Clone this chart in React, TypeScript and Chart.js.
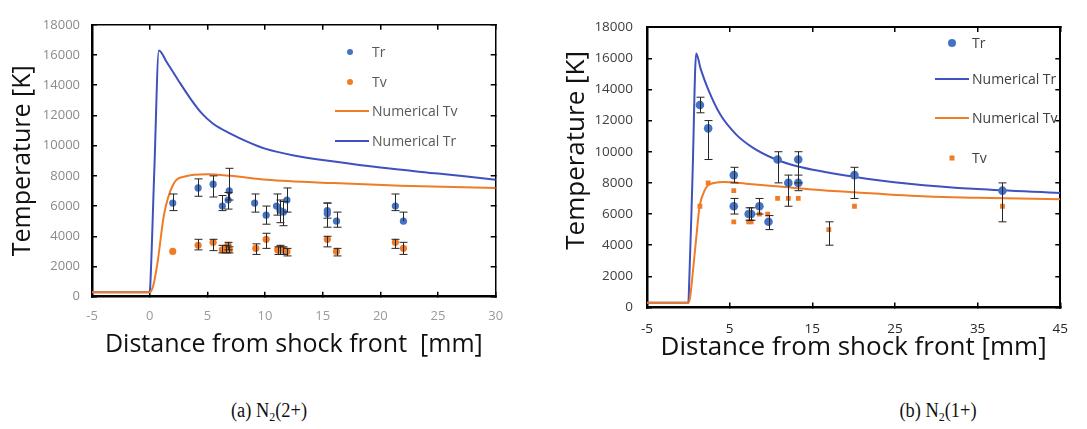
import React, { useEffect, useRef } from "react";
import { Chart, registerables } from "chart.js";

Chart.register(...registerables);

// ---------- Panel (a) N2(2+) ----------
const aTrX = [2.0, 4.2, 5.5, 6.3, 6.8, 6.9, 9.1, 10.1, 11.0, 11.3, 11.6, 11.9, 15.4, 15.4, 16.2, 21.3, 22.0];
const aTrY = [6200, 7200, 7450, 6000, 6400, 7000, 6200, 5400, 6000, 5700, 5600, 6400, 5500, 5700, 5000, 6000, 5000];
const aTrUp = [600, 600, 550, 700, 500, 1500, 600, 600, 800, 700, 700, 800, 700, 500, 600, 800, 600];
const aTrDown = [500, 550, 850, 300, 600, 600, 600, 600, 600, 800, 900, 800, 900, 500, 400, 300, 0];

const aTvX = [2.0, 4.2, 5.5, 6.3, 6.6, 6.8, 6.9, 9.2, 10.1, 11.1, 11.3, 11.6, 11.9, 15.4, 16.2, 21.3, 22.0];
const aTvY = [3000, 3400, 3600, 3100, 3200, 3400, 3100, 3200, 3800, 3100, 3200, 3100, 3000, 3800, 3000, 3600, 3200];
const aTvUp = [0, 400, 200, 300, 200, 200, 200, 300, 400, 200, 200, 200, 200, 200, 200, 200, 400];
const aTvDown = [0, 300, 550, 200, 300, 300, 200, 400, 600, 300, 400, 300, 300, 500, 300, 400, 400];

const aNumTrX = [-5, 0, 0.05, 0.4, 0.8, 1.5, 2.5, 3.5, 4.5, 5.5, 7, 8.5, 10, 12.5, 16, 20, 25, 30];
const aNumTrY = [300, 300, 700, 8300, 16300, 15500, 14300, 13150, 12150, 11450, 10800, 10250, 9800, 9350, 8950, 8550, 8150, 7750];

const aNumTvX = [-5, 0, 0.3, 0.67, 1.25, 2.03, 3.05, 5, 7, 10.17, 15.96, 21.75, 30];
const aNumTvY = [300, 300, 700, 2200, 5460, 7415, 7957, 8100, 8000, 7740, 7520, 7350, 7190];

const aXTicks = [-5, 0, 5, 10, 15, 20, 25, 30];
const aYTicks = [0, 2000, 4000, 6000, 8000, 10000, 12000, 14000, 16000, 18000];

// ---------- Panel (b) N2(1+) ----------
const bTrX = [1.4, 2.4, 5.5, 5.5, 7.3, 7.6, 8.6, 9.7, 10.8, 12.1, 13.3, 13.3, 20.1, 38.0];
const bTrY = [13000, 11500, 8500, 6500, 6000, 6000, 6500, 5500, 9500, 8000, 8000, 9500, 8500, 7500];
const bTrUp = [500, 500, 500, 500, 400, 400, 500, 400, 500, 500, 500, 500, 500, 500];
const bTrDown = [500, 2000, 500, 500, 400, 400, 500, 500, 1500, 1500, 500, 1500, 1500, 2000];

const bTvX = [1.4, 2.4, 5.5, 5.5, 7.3, 7.6, 8.6, 9.6, 10.8, 12.1, 13.3, 17.0, 20.1, 38.0];
const bTvY = [6500, 8000, 7500, 5500, 5500, 5500, 6000, 6000, 7000, 7000, 7000, 5000, 6500, 6500];
const bTvUp = [0, 0, 0, 0, 0, 0, 0, 0, 0, 0, 0, 500, 0, 0];
const bTvDown = [0, 0, 0, 0, 0, 0, 0, 0, 0, 0, 0, 1000, 0, 0];

const bNumTrX = [-5, 0, 0.05, 0.5, 0.95, 1.5, 2.4, 3.85, 5.8, 7.7, 10.4, 13.3, 20, 26.7, 35, 45];
const bNumTrY = [300, 300, 700, 8300, 16300, 15300, 14000, 12400, 11100, 10300, 9550, 9050, 8400, 7950, 7600, 7350];

const bNumTvX = [-5, 0.05, 0.25, 0.57, 1.0, 1.35, 1.8, 2.5, 4.25, 7, 11, 15, 20, 29, 35, 45];
const bNumTvY = [300, 300, 800, 2400, 4700, 6450, 7300, 7880, 8050, 7950, 7770, 7580, 7400, 7120, 7050, 6950];

const bXTicks = [-5, 5, 15, 25, 35, 45];
const bYTicks = [0, 2000, 4000, 6000, 8000, 10000, 12000, 14000, 16000, 18000];

// ---------- styling ----------
const FONT = "'Open Sans', 'Liberation Sans', sans-serif";
const PT_BLUE = "#4472C4";
const LINE_BLUE = "#3F51BE";
const ORANGE = "#F07C28";

const zip = (xs: number[], ys: number[]) => xs.map((x, i) => ({ x, y: ys[i] }));

// error bars + in-plot legend
function makeDecorPlugin(p: any) {
  return {
    id: "decor",
    afterDatasetsDraw(chart: any) {
      const ctx = chart.ctx;
      const sx = chart.scales.x, sy = chart.scales.y;
      ctx.save();
      ctx.fillStyle = "#262626";
      chart.data.datasets.forEach((ds: any) => {
        if (!ds.errUp) return;
        ds.data.forEach((pt: any, j: number) => {
          const up = ds.errUp[j] || 0;
          const dn = ds.errDown[j] || 0;
          if (!up && !dn) return;
          const px = Math.round(sx.getPixelForValue(pt.x));
          const y1 = sy.getPixelForValue(pt.y + up);
          const y0 = sy.getPixelForValue(pt.y - dn);
          const c = 3.5;
          ctx.fillRect(px, y1, 1, y0 - y1);
          if (up) ctx.fillRect(px - c, y1 - 0.5, 2 * c + 1, 1);
          if (dn) ctx.fillRect(px - c, y0 - 0.5, 2 * c + 1, 1);
        });
      });

      const lg = p.legend;
      ctx.font = `${lg.fontSize}px ${FONT}`;
      ctx.textAlign = "left";
      ctx.textBaseline = "middle";
      lg.order.forEach((di: number, k: number) => {
        const ds = chart.data.datasets[di];
        const y = lg.rows[k];
        if (ds.showLine) {
          ctx.fillStyle = ds.borderColor;
          ctx.fillRect(lg.lineX1, y - ds.borderWidth / 2, lg.lineX2 - lg.lineX1, ds.borderWidth);
        } else {
          ctx.fillStyle = ds.backgroundColor;
          const r = lg.pointR[k];
          if (ds.pointStyle === "rect") {
            ctx.fillRect(lg.markerX - r, y - r, 2 * r, 2 * r);
          } else {
            ctx.beginPath();
            ctx.arc(lg.markerX, y, r, 0, Math.PI * 2);
            ctx.fill();
          }
        }
        ctx.fillStyle = lg.color;
        ctx.fillText(ds.label, lg.textX, y + 1);
      });
      ctx.restore();
    },
  };
}

// shared pieces for the four frame axes (inward tick marks via negative tick length)
const tickGrid = (w: number) => ({
  display: true, drawOnChartArea: false, drawTicks: true, tickLength: -5, color: "#000000", lineWidth: w,
});

function makeConfig(p: any): any {
  const f = p.frame;
  return {
    type: "scatter",
    data: {
      datasets: [
        {
          label: "Tr", data: zip(p.trX, p.trY), errUp: p.trUp, errDown: p.trDown,
          backgroundColor: PT_BLUE, borderColor: PT_BLUE, pointRadius: p.trR, pointBorderWidth: 0,
          pointStyle: "circle", showLine: false,
        },
        {
          label: "Tv", data: zip(p.tvX, p.tvY), errUp: p.tvUp, errDown: p.tvDown,
          backgroundColor: ORANGE, borderColor: ORANGE, pointRadius: p.tvR, pointBorderWidth: 0,
          pointStyle: p.tvStyle, showLine: false,
        },
        {
          label: "Numerical Tv", data: zip(p.ntvX, p.ntvY), showLine: true, borderColor: ORANGE,
          backgroundColor: ORANGE, borderWidth: 2, pointRadius: 0, cubicInterpolationMode: "monotone",
        },
        {
          label: "Numerical Tr", data: zip(p.ntrX, p.ntrY), showLine: true, borderColor: LINE_BLUE,
          backgroundColor: LINE_BLUE, borderWidth: 2, pointRadius: 0, cubicInterpolationMode: "monotone",
        },
      ],
    },
    options: {
      animation: false,
      responsive: false,
      devicePixelRatio: 1,
      events: [],
      layout: { padding: p.pad },
      scales: {
        x: {
          type: "linear", position: "bottom", min: p.xTicks[0], max: p.xTicks[p.xTicks.length - 1],
          afterBuildTicks: (s: any) => { s.ticks = p.xTicks.map((v: number) => ({ value: v })); },
          afterFit: (s: any) => { s.height = p.xH; },
          ticks: {
            color: p.xTickColor, font: { family: FONT, size: p.tickSize }, padding: p.xTickPad + 5,
            maxRotation: 0, autoSkip: false, callback: (v: any) => String(v),
          },
          grid: tickGrid(f.tickW),
          border: { display: true, color: "#000000", width: f.bottomW },
          title: {
            display: true, text: p.xTitle, color: "#111",
            font: { family: FONT, size: p.titleSize, lineHeight: 1.2 }, padding: { top: 0, bottom: p.xTitlePad },
          },
        },
        x2: {
          type: "linear", position: "top", min: p.xTicks[0], max: p.xTicks[p.xTicks.length - 1],
          afterBuildTicks: (s: any) => { s.ticks = p.xTicks.map((v: number) => ({ value: v })); },
          afterFit: (s: any) => { s.height = 0; },
          ticks: { display: false },
          grid: tickGrid(f.tickW),
          border: { display: true, color: "#000000", width: f.topW },
        },
        y: {
          type: "linear", position: "left", min: 0, max: 18000,
          afterBuildTicks: (s: any) => { s.ticks = p.yTicks.map((v: number) => ({ value: v })); },
          afterFit: (s: any) => { s.width = p.yW; },
          ticks: {
            color: p.yTickColor, font: { family: FONT, size: p.tickSize }, padding: p.yTickPad + 5,
            autoSkip: false, callback: (v: any) => String(v),
          },
          grid: tickGrid(f.tickW),
          border: { display: true, color: "#000000", width: f.leftW },
          title: {
            display: true, text: p.yTitle, color: "#111",
            font: { family: FONT, size: p.titleSize, lineHeight: 1.2 }, padding: { top: p.yTitlePad, bottom: 0 },
          },
        },
        y2: {
          type: "linear", position: "right", min: 0, max: 18000,
          afterBuildTicks: (s: any) => { s.ticks = p.yTicks.map((v: number) => ({ value: v })); },
          afterFit: (s: any) => { s.width = 0; },
          ticks: { display: false },
          grid: tickGrid(f.tickW),
          border: { display: true, color: "#000000", width: f.rightW },
        },
      },
      plugins: {
        legend: { display: false },
        tooltip: { enabled: false },
      },
    },
    plugins: [makeDecorPlugin(p)],
  };
}

const cfgA = {
  trX: aTrX, trY: aTrY, trUp: aTrUp, trDown: aTrDown, trR: 3.6,
  tvX: aTvX, tvY: aTvY, tvUp: aTvUp, tvDown: aTvDown, tvR: 3.6, tvStyle: "circle",
  ntrX: aNumTrX, ntrY: aNumTrY, ntvX: aNumTvX, ntvY: aNumTvY,
  xTicks: aXTicks, yTicks: aYTicks,
  pad: { left: 0, top: 20.7, right: 49.3, bottom: 0 },
  xH: 83.3, yW: 92,
  tickSize: 13, xTickColor: "#9a9a9a", yTickColor: "#8a8a8a", xTickPad: 12, yTickPad: 12,
  titleSize: 25, xTitle: "Distance from shock front  [mm]", yTitle: "Temperature [K]",
  xTitlePad: 20, yTitlePad: 8,
  frame: { topW: 1.5, rightW: 1.5, bottomW: 2.5, leftW: 2.5, tickW: 1.5 },
  legend: {
    order: [0, 1, 2, 3], rows: [52, 82, 111, 141], markerX: 350, textX: 372, lineX1: 335, lineX2: 369,
    pointR: [3, 3, 0, 0], fontSize: 14, color: "#595959",
  },
};

const cfgB = {
  trX: bTrX, trY: bTrY, trUp: bTrUp, trDown: bTrDown, trR: 4.3,
  tvX: bTvX, tvY: bTvY, tvUp: bTvUp, tvDown: bTvDown, tvR: 3.4, tvStyle: "rect",
  ntrX: bNumTrX, ntrY: bNumTrY, ntvX: bNumTvX, ntvY: bNumTvY,
  xTicks: bXTicks, yTicks: bYTicks,
  pad: { left: 0, top: 12.5, right: 11, bottom: 0 },
  xH: 72.5, yW: 102,
  tickSize: 13.5, xTickColor: "#262626", yTickColor: "#404040", xTickPad: 14, yTickPad: 14,
  titleSize: 26, xTitle: "Distance from shock front [mm]", yTitle: "     Temperature [K]",
  xTitlePad: 16.4, yTitlePad: 16.4,
  frame: { topW: 2, rightW: 2, bottomW: 2.5, leftW: 2.5, tickW: 1.5 },
  // legend x positions are relative to panel (b)'s own canvas (which starts at x = 545)
  legend: {
    order: [0, 3, 2, 1], rows: [43, 79, 118, 158], markerX: 407, textX: 427, lineX1: 390, lineX2: 424,
    pointR: [4, 0, 0, 2.5], fontSize: 14, color: "#404040",
  },
};

const captionStyle = (cx: number): React.CSSProperties => ({
  position: "absolute", left: cx - 100, width: 200, top: 398, textAlign: "center",
  fontFamily: "'Liberation Serif', 'DejaVu Serif', serif", fontSize: 20, lineHeight: "24px", color: "#111",
  transform: "scaleX(0.92)",
});
const subStyle: React.CSSProperties = { fontSize: "0.65em", verticalAlign: "-0.3em", lineHeight: 0 };

export default function App() {
  const refA = useRef<HTMLCanvasElement>(null);
  const refB = useRef<HTMLCanvasElement>(null);
  useEffect(() => {
    const ca = new Chart(refA.current as HTMLCanvasElement, makeConfig(cfgA));
    const cb = new Chart(refB.current as HTMLCanvasElement, makeConfig(cfgB));
    return () => { ca.destroy(); cb.destroy(); };
  }, []);
  return (
    <div style={{ position: "absolute", left: 0, top: 0, width: 1087, height: 429, background: "#fff", overflow: "hidden" }}>
      <canvas ref={refA} width={545} height={380} style={{ position: "absolute", left: 0, top: 0 }} />
      <canvas ref={refB} width={542} height={380} style={{ position: "absolute", left: 545, top: 0 }} />
      <div style={captionStyle(269)}>(a) N<sub style={subStyle}>2</sub>(2+)</div>
      <div style={captionStyle(938)}>(b) N<sub style={subStyle}>2</sub>(1+)</div>
    </div>
  );
}
